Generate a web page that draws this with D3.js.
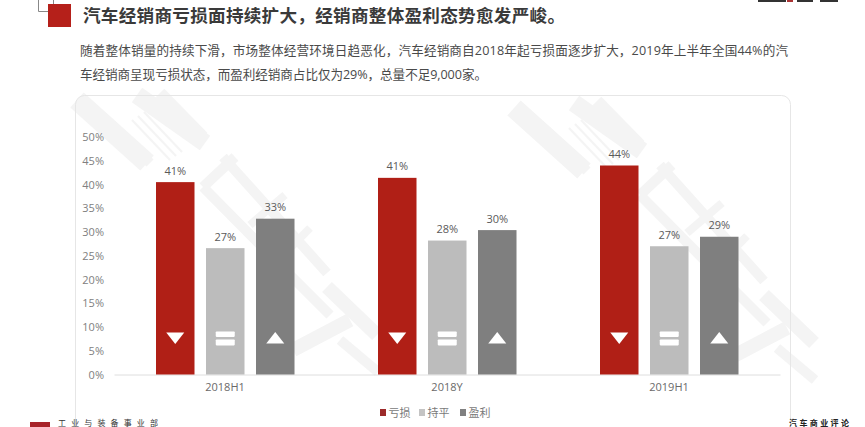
<!DOCTYPE html>
<html><head><meta charset="utf-8">
<script src="https://cdn.jsdelivr.net/npm/d3@7"></script>
<style>html,body{margin:0;padding:0;background:#fff}svg{display:block}text{font-family:"Open Sans","Noto Sans CJK SC",sans-serif}</style>
</head><body><svg id="c" width="865" height="427"></svg>
<script>
const categories=["2018H1","2018Y","2019H1"];
const seriesNames=["亏损","持平","盈利"];
const lossValues=[40.5,41.4,44];
const flatValues=[26.6,28.2,27];
const profitValues=[32.8,30.4,29];
const lossLabels=["41%","41%","44%"];
const flatLabels=["27%","28%","27%"];
const profitLabels=["33%","30%","29%"];
const yTicks=[0,5,10,15,20,25,30,35,40,45,50];
const colors=["#b01f16","#bcbcbc","#7f7f7f"];
const legendColors=["#9c2a2a","#c4c4c4","#808080"];
const title="汽车经销商亏损面持续扩大，经销商整体盈利态势愈发严峻。";
const body1="随着整体销量的持续下滑，市场整体经营环境日趋恶化，汽车经销商自2018年起亏损面逐步扩大，2019年上半年全国44%的汽";
const body2="车经销商呈现亏损状态，而盈利经销商占比仅为29%，总量不足9,000家。";
const footerL="工业与装备事业部";
const footerR="汽车商业评论";

const svg=d3.select("#c");
// watermark: faint diagonal strokes, repeated twice
const strokes=[
 [77,100,147,163,20],[103,117,150,163,10],[137,95,205,143,18],[160,93,203,137,12],
 [132,120,170,160,2],[138,116,176,156,2],[144,112,182,152,2],
 [223,157,327,273,10],[203,187,290,275,10],[203,187,235,157,10],
 [250,225,285,195,8],[280,258,310,228,8],
 [285,270,330,315,10],[327,287,377,335,14],[293,350,350,320,14],[340,340,378,372,10]
];
[[0,0],[437,8]].forEach(([dx,dy])=>{
  svg.append("g").attr("transform",`translate(${dx},${dy})`).attr("stroke","#f4f4f4").attr("stroke-linecap","butt")
   .selectAll("line").data(strokes).join("line")
   .attr("x1",d=>d[0]).attr("y1",d=>d[1]).attr("x2",d=>d[2]).attr("y2",d=>d[3]).attr("stroke-width",d=>d[4]);
});
// header
svg.append("path").attr("d","M38.5 0V11.5H48M53.5 0V4").attr("fill","none").attr("stroke","#888").attr("stroke-width",1);
svg.append("rect").attr("x",48).attr("y",4).attr("width",23).attr("height",23).attr("fill","#b5201a");
svg.append("text").attr("x",83).attr("y",22).attr("font-size",17.6).attr("font-weight",700).attr("fill","#3a3a3a").attr("textLength",482).attr("lengthAdjust","spacing").text(title);
svg.append("text").attr("x",80).attr("y",55).attr("font-size",12.6).attr("fill","#4a4a4a").attr("textLength",708).attr("lengthAdjust","spacing").text(body1);
svg.append("text").attr("x",80).attr("y",79).attr("font-size",12.6).attr("fill","#4a4a4a").attr("textLength",407).attr("lengthAdjust","spacing").text(body2);
// cropped logo fragment at the top edge
[[758,28,"#333"],[787,6,"#a33"],[797,16,"#333"],[820,18,"#333"]].forEach(([x,w,c])=>{
  svg.append("rect").attr("x",x).attr("y",0).attr("width",w).attr("height",2).attr("fill",c);
});
// card
svg.append("rect").attr("x",75.5).attr("y",95.5).attr("width",715).attr("height",350).attr("rx",9).attr("fill","none").attr("stroke","#e6e6e6");
// scales
const y=d3.scaleLinear().domain([0,50]).range([374.5,137]);
const x0=d3.scaleBand().domain(categories).range([114,780]);
const x1=d3.scaleBand().domain(seriesNames).range([x0.bandwidth()/2-69,x0.bandwidth()/2+69.5]).paddingInner(0.23);
// axes
const ya=svg.append("g").attr("transform","translate(104,0)").call(d3.axisLeft(y).tickValues(yTicks).tickSize(0).tickFormat(d=>d+"%"));
ya.select(".domain").remove();
ya.selectAll("text").attr("font-size",11).attr("fill","#808080").attr("font-family","Open Sans").attr("x",0);
const xa=svg.append("g").attr("transform","translate(0,374.5)").call(d3.axisBottom(x0).tickSize(0));
xa.select(".domain").attr("stroke","#dedede");
xa.selectAll("text").attr("font-size",11).attr("fill","#6a6a6a").attr("font-family","Open Sans").attr("y",9);
// bars
const table=[lossValues,flatValues,profitValues];
const labels=[lossLabels,flatLabels,profitLabels];
seriesNames.forEach((s,si)=>{
  const g=svg.append("g");
  categories.forEach((c,ci)=>{
    const bx=x0(c)+x1(s), bw=x1.bandwidth(), v=table[si][ci], cx=bx+bw/2;
    g.append("rect").attr("x",bx).attr("y",y(v)).attr("width",bw).attr("height",y(0)-y(v)).attr("fill",colors[si]);
    g.append("text").attr("x",cx).attr("y",y(v)-7.5).attr("text-anchor","middle").attr("font-size",11).attr("fill","#5a5a5a").text(labels[si][ci]);
    const my=y(7.6);
    if(si===0) g.append("path").attr("d",`M${cx-9} ${my-6}H${cx+9}L${cx} ${my+5.5}Z`).attr("fill","#fff");
    if(si===1){
      g.append("rect").attr("x",cx-9.5).attr("y",my-7).attr("width",19).attr("height",5.5).attr("rx",0.8).attr("fill","#fff");
      g.append("rect").attr("x",cx-9.5).attr("y",my+1).attr("width",19).attr("height",6).attr("rx",0.8).attr("fill","#fff");
    }
    if(si===2) g.append("path").attr("d",`M${cx-9} ${my+5}H${cx+9}L${cx} ${my-6.5}Z`).attr("fill","#fff");
  });
});
// legend
const legX=[380,419,460];
seriesNames.forEach((s,i)=>{
  svg.append("rect").attr("x",legX[i]).attr("y",409).attr("width",6).attr("height",7).attr("fill",legendColors[i]);
  svg.append("text").attr("x",legX[i]+8.5).attr("y",416.5).attr("font-size",11).attr("fill","#7a7a7a").text(s);
});
// footer
svg.append("rect").attr("x",30).attr("y",422).attr("width",20).attr("height",5).attr("fill","#a8232a");
svg.append("text").attr("x",58).attr("y",426).attr("font-size",8).attr("fill","#333").attr("textLength",100).attr("lengthAdjust","spacing").text(footerL);
svg.append("text").attr("x",789).attr("y",426).attr("font-size",8).attr("font-weight",700).attr("fill","#222").attr("textLength",60).attr("lengthAdjust","spacing").text(footerR);
</script></body></html>
